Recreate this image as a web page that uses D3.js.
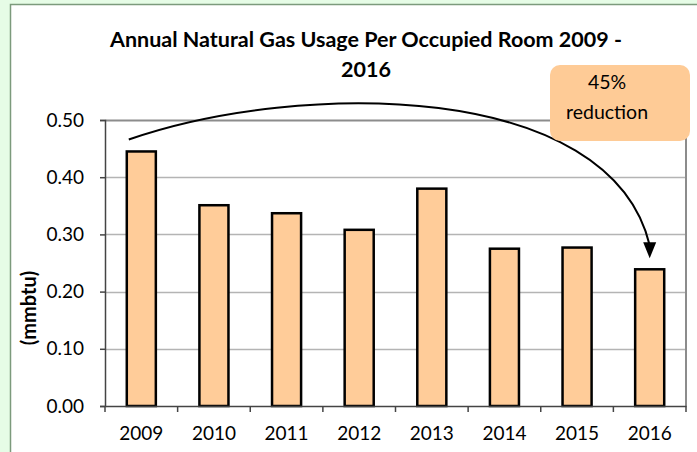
<!DOCTYPE html>
<html><head><meta charset="utf-8">
<script src="https://cdn.jsdelivr.net/npm/d3@7"></script>
<style>
html,body{margin:0;padding:0;background:#e6fce6;}
svg{display:block;}
</style></head>
<body>
<script>
const years = ["2009","2010","2011","2012","2013","2014","2015","2016"];
const usage = [0.445, 0.351, 0.337, 0.308, 0.380, 0.275, 0.277, 0.239];
const yTicks = [0, 0.1, 0.2, 0.3, 0.4, 0.5];
const titleLines = ["Annual Natural Gas Usage Per Occupied Room 2009 -", "2016"];
const yLabel = "(mmbtu)";
const calloutLines = ["45%", "reduction"];

const W = 697, H = 452;
const font = "Lato, 'Open Sans', sans-serif";
const svg = d3.select("body").append("svg").attr("width", W).attr("height", H);

// background & chart frame
svg.append("rect").attr("width", W).attr("height", H).attr("fill", "#e6fce6");
svg.append("rect").attr("x", 10.5).attr("y", 4.5).attr("width", W).attr("height", H)
  .attr("fill", "#ffffff").attr("stroke", "#7c9a7c").attr("stroke-width", 1.5);

const plot = {left: 105, right: 686, top: 120, bottom: 406};
const x = d3.scaleBand().domain(years).range([plot.left, plot.right]).paddingInner(0.6).paddingOuter(0.3);
const xb = d3.scaleBand().domain(years).range([plot.left, plot.right]);
const y = d3.scaleLinear().domain([0, 0.5]).range([plot.bottom, plot.top]);

// gridlines
svg.append("g").selectAll("line").data(yTicks.filter(d => d > 0)).join("line")
  .attr("x1", plot.left).attr("x2", plot.right)
  .attr("y1", d => Math.round(y(d)) + 0.5).attr("y2", d => Math.round(y(d)) + 0.5)
  .attr("stroke", d => d === 0.5 ? "#8c8c8c" : "#b4b4b4").attr("stroke-width", d => d === 0.5 ? 2 : 1.5);
// right border
svg.append("line").attr("x1", plot.right).attr("x2", plot.right)
  .attr("y1", plot.top).attr("y2", plot.bottom).attr("stroke", "#8c8c8c").attr("stroke-width", 2);

// bars
svg.append("g").selectAll("rect").data(usage).join("rect")
  .attr("x", (d, i) => x(years[i]))
  .attr("width", x.bandwidth())
  .attr("y", d => y(d))
  .attr("height", d => y(0) - y(d))
  .attr("fill", "#ffcc99").attr("stroke", "#000").attr("stroke-width", 2.5);

// y axis
const yAxis = svg.append("g").attr("transform", `translate(${plot.left},0)`)
  .call(d3.axisLeft(y).tickValues(yTicks).tickFormat(d3.format(".2f")).tickSize(5).tickPadding(16));
yAxis.select(".domain").attr("stroke", "#444").attr("stroke-width", 1.5);
yAxis.selectAll(".tick line").attr("stroke", "#444").attr("stroke-width", 1.5);
yAxis.selectAll("text").attr("font-family", font).attr("font-size", 19).attr("fill", "#000");

// x axis
const xAxis = svg.append("g").attr("transform", `translate(0,${plot.bottom})`)
  .call(d3.axisBottom(xb).tickSize(0).tickPadding(21));
xAxis.select(".domain").attr("stroke", "#444").attr("stroke-width", 1.5);
xAxis.selectAll("text").attr("font-family", font).attr("font-size", 19).attr("fill", "#000");
svg.append("g").selectAll("line").data(years.concat(["end"])).join("line")
  .attr("x1", (d, i) => plot.left + i * xb.step()).attr("x2", (d, i) => plot.left + i * xb.step())
  .attr("y1", plot.bottom).attr("y2", plot.bottom + 6)
  .attr("stroke", "#444").attr("stroke-width", 1.5);

// title
svg.append("g").selectAll("text").data(titleLines).join("text")
  .attr("x", 366).attr("y", (d, i) => 47 + i * 30)
  .attr("text-anchor", "middle").attr("font-family", font).attr("font-weight", "bold")
  .attr("font-size", 21.5).attr("fill", "#000").text(d => d);

// y label
svg.append("text").attr("transform", `translate(36,308) rotate(-90)`)
  .attr("text-anchor", "middle").attr("font-family", font).attr("font-weight", "bold")
  .attr("font-size", 20).attr("fill", "#000").text(yLabel);

// arrow annotation
const x0 = x(years[0]) + 2, y0 = y(usage[0]) - 12;
const lastX = x(years[7]) + x.bandwidth() / 2;
const tipY = y(usage[7]) - 11;
const endY = tipY - 13;
svg.append("path")
  .attr("d", `M${x0},${y0} C300,80 610,80 ${lastX},${endY}`)
  .attr("fill", "none").attr("stroke", "#000").attr("stroke-width", 2);
svg.append("path")
  .attr("d", `M${lastX},${tipY} L${lastX - 6.5},${tipY - 16} L${lastX + 6.5},${tipY - 16} Z`)
  .attr("fill", "#000");

// callout
svg.append("rect").attr("x", 550).attr("y", 65).attr("width", 140).attr("height", 76)
  .attr("rx", 10).attr("fill", "#fecb96");
svg.append("g").selectAll("text").data(calloutLines).join("text")
  .attr("x", 607).attr("y", (d, i) => 89 + i * 30)
  .attr("text-anchor", "middle").attr("font-family", font)
  .attr("font-size", 19.5).attr("fill", "#000").text(d => d);
</script>
</body></html>
